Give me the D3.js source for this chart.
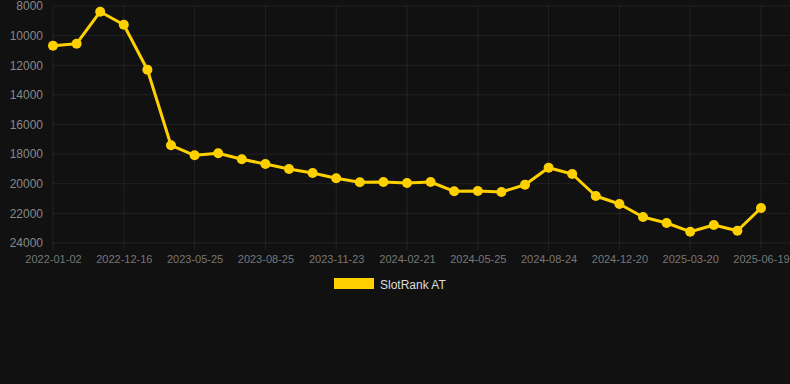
<!DOCTYPE html>
<html>
<head>
<meta charset="utf-8">
<script src="https://cdn.jsdelivr.net/npm/d3@7/dist/d3.min.js"></script>
<style>
  html, body { margin: 0; padding: 0; background: #111111; }
  svg { display: block; }
  text { font-family: "Liberation Sans", Arial, sans-serif; }
</style>
</head>
<body>
<svg id="chart" width="790" height="384"></svg>
<script>
// ---- data ----
const categories = [
  "2022-01-02","2022-05-10","2022-09-01","2022-12-16","2023-02-10","2023-04-01",
  "2023-05-25","2023-06-25","2023-07-25","2023-08-25","2023-09-24","2023-10-24",
  "2023-11-23","2023-12-23","2024-01-22","2024-02-21","2024-03-22","2024-04-23",
  "2024-05-25","2024-06-25","2024-07-25","2024-08-24","2024-09-30","2024-11-10",
  "2024-12-20","2025-01-20","2025-02-20","2025-03-20","2025-04-20","2025-05-20",
  "2025-06-19"
];
const slotRankAT = [
  10680, 10545, 8385, 9262, 12300, 17404,
  18079, 17944, 18349, 18667, 19004, 19274,
  19632, 19902, 19882, 19949, 19882, 20510,
  20489, 20557, 20064, 18916, 19342, 20827,
  21367, 22245, 22650, 23237, 22785, 23170,
  21637
];
const yTicks = [8000, 10000, 12000, 14000, 16000, 18000, 20000, 22000, 24000];
const xTickLabels = categories.filter((d, i) => i % 3 === 0);
const seriesName = "SlotRank AT";

// ---- layout ----
const svg = d3.select("#chart");
const mLeft = 53, mRight = 761, mTop = 6, mBottom = 243, gridRight = 790;
const color = "#FFD000";
const gridColor = "rgba(255,255,255,0.07)";

const x = d3.scalePoint().domain(categories).range([mLeft, mRight]);
const y = d3.scaleLinear().domain([8000, 24000]).range([mTop, mBottom]);

// horizontal grid
svg.append("g").selectAll("line").data(yTicks).join("line")
  .attr("x1", mLeft).attr("x2", gridRight)
  .attr("y1", d => y(d)).attr("y2", d => y(d))
  .attr("stroke", gridColor).attr("stroke-width", 1);

// vertical grid (only labelled ticks)
svg.append("g").selectAll("line").data(xTickLabels).join("line")
  .attr("x1", d => x(d)).attr("x2", d => x(d))
  .attr("y1", mTop).attr("y2", mBottom + 7)
  .attr("stroke", gridColor).attr("stroke-width", 1);

// y axis labels
const yAxis = d3.axisLeft(y).tickValues(yTicks).tickSize(0).tickPadding(10)
  .tickFormat(d3.format("d"));
const gy = svg.append("g").attr("transform", `translate(${mLeft},0)`).call(yAxis);
gy.select(".domain").remove();
gy.selectAll("text").attr("fill", "#888888").style("font-size", "12px")
  .style("font-family", "'Liberation Sans', Arial, sans-serif");

// x axis labels
const xAxis = d3.axisBottom(x).tickValues(xTickLabels).tickSize(0).tickPadding(12);
const gx = svg.append("g").attr("transform", `translate(0,${mBottom})`).call(xAxis);
gx.select(".domain").remove();
gx.selectAll("text").attr("fill", "#777777").style("font-size", "11px")
  .style("font-family", "'Liberation Sans', Arial, sans-serif");

// line
const line = d3.line().x((d, i) => x(categories[i])).y(d => y(d));
svg.append("path").datum(slotRankAT)
  .attr("d", line).attr("fill", "none")
  .attr("stroke", color).attr("stroke-width", 3).attr("stroke-linejoin", "round");

// points
svg.append("g").selectAll("circle").data(slotRankAT).join("circle")
  .attr("cx", (d, i) => x(categories[i])).attr("cy", d => y(d))
  .attr("r", 5).attr("fill", color);

// legend
const lg = svg.append("g");
lg.append("rect").attr("x", 334).attr("y", 278).attr("width", 40).attr("height", 11).attr("fill", color);
lg.append("text").attr("x", 380).attr("y", 288.5).text(seriesName)
  .attr("fill", "#dddddd").style("font-size", "12px");
</script>
</body>
</html>
